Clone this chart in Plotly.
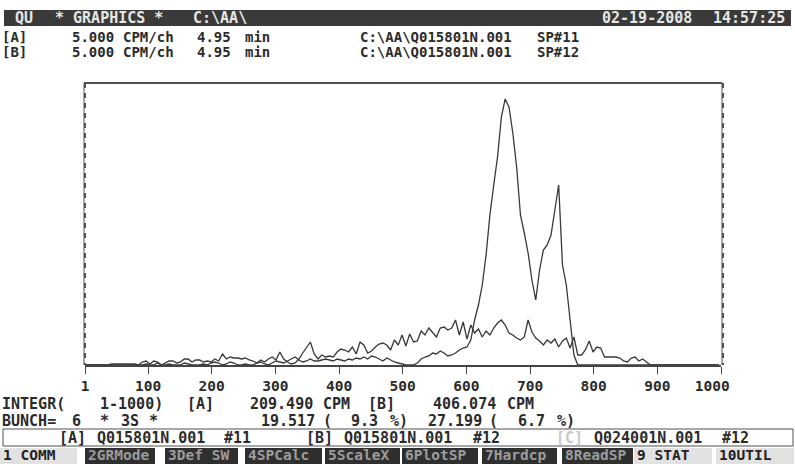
import plotly.graph_objects as go

# ---------------- data ----------------
channels = list(range(1, 1000, 6))          # BUNCH = 6 channels

series_a = [
    0, 0, 0, 0, 0, 0, 0,
    1, 1, 1, 1, 1, 1, 1,
    0, 3, 4, 1, 4, 3, 0,
    2, 4, 4, 2, 3, 6, 6,
    3, 5, 5, 3, 4, 3, 6,
    4, 11, 6, 8, 7, 7, 6,
    7, 5, 4, 2, 5, 3, 6,
    8, 5, 13, 6, 3, 1, 2,
    6, 12, 18, 23, 11, 6, 10,
    8, 9, 8, 13, 16, 15, 13,
    18, 11, 23, 20, 12, 14, 18,
    21, 22, 20, 15, 25, 20, 30,
    19, 31, 23, 24, 34, 30, 37,
    33, 28, 37, 38, 35, 37, 45,
    30, 43, 26, 40, 32, 36, 28,
    34, 30, 37, 42, 45, 40, 32,
    30, 27, 25, 28, 45, 33, 27,
    24, 20, 25, 22, 26, 18, 24,
    27, 17, 28, 10, 10, 15, 24,
    13, 18, 17, 8, 8, 8, 8,
    7, 4, 3, 7, 8, 4, 6,
    3, 0, 0, 0, 0, 0, 0,
    0, 0, 0, 0, 0, 0, 0,
    0, 0, 0, 0, 0, 0,
]

series_b = [
    0, 0, 0, 0, 0, 0, 0,
    0, 0, 0, 0, 0, 0, 0,
    0, 0, 1, 0, 0, 2, 0,
    0, 1, 0, 0, 0, 2, 1,
    0, 0, 0, 1, 0, 2, 3,
    2, 0, 1, 3, 2, 0, 0,
    1, 0, 0, 2, 3, 1, 0,
    2, 4, 3, 2, 4, 6, 8,
    5, 3, 4, 6, 4, 4, 5,
    6, 5, 4, 6, 5, 4, 6,
    5, 7, 6, 8, 6, 9, 8,
    6, 4, 7, 5, 3, 2, 1,
    0, 0, 0, 2, 6, 8, 9,
    12, 11, 14, 12, 9, 10, 12,
    15, 17, 18, 25, 45, 60, 80,
    110, 150, 180, 208, 248, 266, 258,
    232, 198, 150, 132, 112, 85, 65,
    95, 115, 120, 130, 155, 180, 100,
    80, 45, 10, 0, 0, 0, 0,
    0, 0, 0, 0, 0, 0, 0,
    0, 0, 0, 0, 0, 0, 0,
    0, 0, 0, 0, 0, 0, 0,
    0, 0, 0, 0, 0, 0, 0,
    0, 0, 0, 0, 0, 0,
]

tick_values = [1, 100, 200, 300, 400, 500, 600, 700, 800, 900, 1000]
tick_labels = ["1", "100", "200", "300", "400", "500", "600", "700", "800", "900",
               "1000\u00a0\u00a0"]

# ---------------- layout helpers ----------------
W, H = 795, 464
PL, PR, PT, PB = 85, 721, 83, 365      # plot area in pixels


def fx(px):
    return (px - PL) / (PR - PL)


def fy(py):
    return (PB - py) / (PB - PT)


MONO = "DejaVu Sans Mono"
DARK = "#2b2b2b"

fig = go.Figure()
for ys in (series_a, series_b):
    fig.add_trace(go.Scatter(x=channels, y=ys, mode="lines",
                             line=dict(color="#383838", width=1.3),
                             hoverinfo="skip", showlegend=False))

shapes = []
annots = []


def rect(x0, y0, x1, y1, fill, line=None, lw=0):
    shapes.append(dict(type="rect", xref="paper", yref="paper",
                       x0=fx(x0), x1=fx(x1), y0=fy(y0), y1=fy(y1),
                       fillcolor=fill, line=dict(color=line or fill, width=lw),
                       layer="below"))


def text(s, x, y, size=15, color=DARK):
    annots.append(dict(text=s, xref="paper", yref="paper", x=fx(x), y=fy(y),
                       xanchor="left", yanchor="middle", showarrow=False,
                       borderpad=0,
                       font=dict(family=MONO, size=size, color=color, weight="bold")))


# header bar
rect(4, 10, 791, 26, "#3a3a3a")
for s, x in [("QU", 14), ("* GRAPHICS *", 54), ("C:\\AA\\", 192),
             ("02-19-2008", 601), ("14:57:25", 712)]:
    text(s, x, 18, size=15, color="#e6e6e6")

# file rows
for row, y, sp in [("[A]", 37, "SP#11"), ("[B]", 52, "SP#12")]:
    for s, x in [(row, 1), ("5.000", 71), ("CPM/ch", 122), ("4.95", 196),
                 ("min", 244), ("C:\\AA\\Q015801N.001", 359), (sp, 536)]:
        text(s, x, y, size=14)

# frame
shapes.append(dict(type="line", xref="paper", yref="paper", x0=fx(84), x1=fx(722),
                   y0=fy(83), y1=fy(83), line=dict(color="#505050", width=2)))
for xv in (84, 722):
    shapes.append(dict(type="line", xref="paper", yref="paper", x0=fx(xv), x1=fx(xv),
                       y0=fy(83), y1=fy(365), line=dict(color="#505050", width=1)))
    shapes.append(dict(type="line", xref="paper", yref="paper", x0=fx(xv + 1), x1=fx(xv + 1),
                       y0=fy(83), y1=fy(365),
                       line=dict(color="#505050", width=2, dash="5px,5px")))

# integral rows
for s, x in [("INTEGR(", 1), ("1-1000)", 99), ("[A]", 186), ("209.490", 249),
             ("CPM", 322), ("[B]", 367), ("406.074", 432), ("CPM", 506)]:
    text(s, x, 404)
for s, x in [("BUNCH=", 1), ("6", 71), ("*", 99), ("3S", 120), ("*", 148),
             ("19.517", 260), ("(", 322), ("9.3", 350), ("%)", 389),
             ("27.199", 427), ("(", 488), ("6.7", 517), ("%)", 556)]:
    text(s, x, 421)

# boxed spectrum row
rect(3, 429, 793, 446, "#ffffff", line="#505050", lw=1)
for s, x, c in [("[A]", 58, DARK), ("Q015801N.001", 96, DARK), ("#11", 223, DARK),
                ("[B]", 305, DARK), ("Q015801N.001", 343, DARK), ("#12", 472, DARK),
                ("[C]", 555, "#c8c8c8"), ("Q024001N.001", 593, DARK), ("#12", 721, DARK)]:
    text(s, x, 438, size=15, color=c)

# function keys
keys = [("1 COMM", 0, 77, False), ("2GRMode", 85, 155, True), ("3Def SW", 165, 238, True),
        ("4SPCalc", 245, 322, True), ("5ScaleX", 325, 400, True), ("6PlotSP", 402, 478, True),
        ("7Hardcp", 482, 557, True), ("8ReadSP", 562, 633, True),
        ("9 STAT", 634, 712, False), ("10UTIL", 716, 794, False)]
for label, x0, x1, dark in keys:
    rect(x0, 448, x1, 464, "#2f2f2f" if dark else "#e2e2e2")
    text(label, x0 + 2, 455.5, size=14.5, color="#9c9c9c" if dark else "#222222")

fig.update_layout(
    width=W, height=H,
    margin=dict(l=PL, r=W - PR, t=PT, b=H - PB),
    paper_bgcolor="#ffffff", plot_bgcolor="#ffffff",
    shapes=shapes, annotations=annots,
    xaxis=dict(range=[1, 1000], tickvals=tick_values, ticktext=tick_labels,
               ticks="outside", ticklen=7, tickwidth=1, tickcolor="#444444",
               showline=True, linecolor="#444444", linewidth=1.5,
               showgrid=False, zeroline=False, fixedrange=True,
               tickfont=dict(family=MONO, size=14.5, color=DARK, weight="bold")),
    yaxis=dict(range=[0, 282], visible=False, showgrid=False, zeroline=False,
               fixedrange=True),
)

fig.write_html("out.html", config={"displayModeBar": False})
